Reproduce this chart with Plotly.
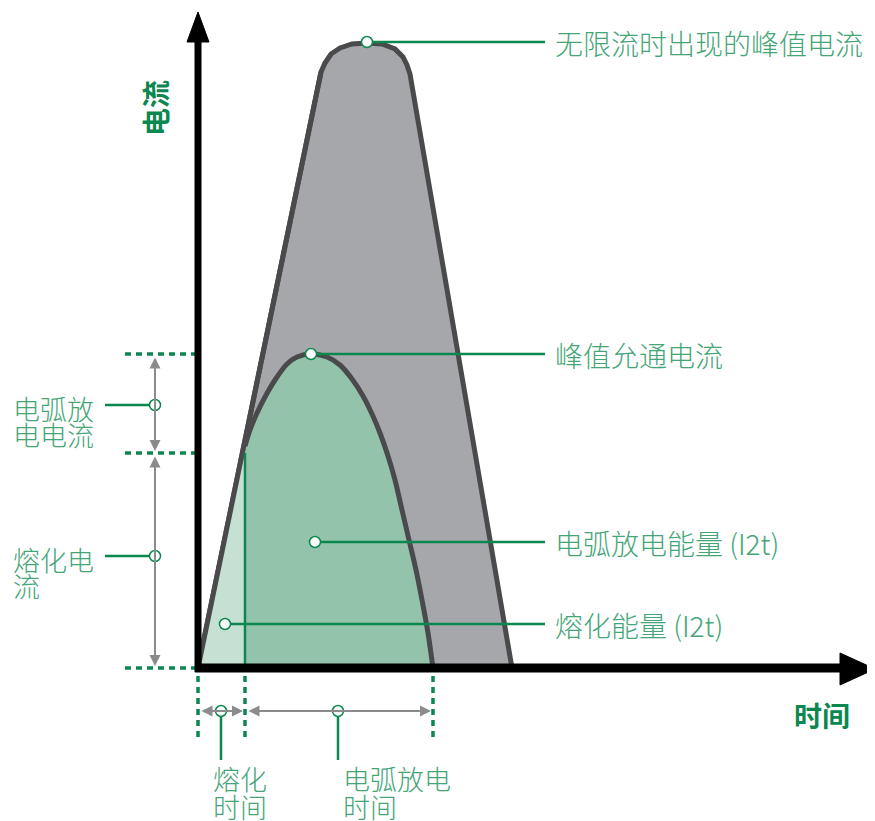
import plotly.graph_objects as go

# outline of the unlimited-current pulse (pixel space, y grows downward)
gray_x = [198, 321, 325, 331, 340, 352, 367, 382, 395, 403, 407, 410, 512, 198]
gray_y = [668, 72, 63, 54, 48, 44, 43, 44, 49, 57, 65, 74, 668, 668]

# let-through current curve
green_x = [245, 250, 257, 265, 275, 287, 297, 311, 327, 340, 352, 363, 372, 380, 388, 395, 402, 409, 416, 422, 428, 433]
green_y = [446, 430, 413, 397, 380, 364, 357, 354, 357, 365, 379, 396, 414, 433, 456, 480, 510, 540, 570, 600, 633, 668]

melt_x = 245
arc_end_x = 433
origin = (198, 668)

# horizontal reference levels on the current axis
level_peak = 354
level_melt = 453

right_labels = ["无限流时出现的峰值电流", "峰值允通电流", "电弧放电能量 (I2t)", "熔化能量 (I2t)"]
right_dots_x = [367, 311, 315, 225]
right_dots_y = [42, 354, 542, 624]

left_labels = [["电弧放", "电电流"], ["熔化电", "流"]]
left_dots_y = [405, 556]

bottom_labels = [["熔化", "时间"], ["电弧放电", "时间"]]
bottom_dots_x = [221, 338]
bottom_text_x = [211, 341]

GREEN_LINE = "#0b874f"
GREEN_TEXT = "#44a577"
DARK = "#4a4a4c"
ARROW_GRAY = "#8b8b8e"
FONT = "Noto Sans CJK SC"
PAGE_OFFSET = 8  # body margin of the html page

fig = go.Figure()

# gray pulse
fig.add_trace(go.Scatter(x=gray_x, y=gray_y, mode="lines", fill="toself",
                         fillcolor="#a6a7aa", line=dict(color=DARK, width=5)))

# light green (melting) region
fig.add_trace(go.Scatter(x=[origin[0], green_x[0], melt_x, origin[0]],
                         y=[origin[1], green_y[0], origin[1], origin[1]],
                         mode="lines", fill="toself", fillcolor="#c6e0d3",
                         line=dict(width=0)))
# medium green (arcing) region
fig.add_trace(go.Scatter(x=[melt_x] + green_x + [melt_x],
                         y=[origin[1]] + green_y + [origin[1]],
                         mode="lines", fill="toself", fillcolor="#93c4ab",
                         line=dict(width=0)))
# redraw left edge of gray pulse over the green
fig.add_trace(go.Scatter(x=gray_x[:2], y=gray_y[:2], mode="lines",
                         line=dict(color=DARK, width=5)))
# let-through curve stroke
fig.add_trace(go.Scatter(x=green_x, y=green_y, mode="lines", line_shape="spline",
                         line=dict(color=DARK, width=5, smoothing=0.8)))

# melt time vertical line inside fill
fig.add_trace(go.Scatter(x=[melt_x, melt_x], y=[level_melt, origin[1]], mode="lines",
                         line=dict(color=GREEN_LINE, width=2.5)))

# dashed guides
for yv in [level_peak, level_melt, origin[1]]:
    fig.add_trace(go.Scatter(x=[125, 196], y=[yv, yv], mode="lines",
                             line=dict(color=GREEN_LINE, width=3.5, dash="6px,5px")))
for xv in [origin[0], melt_x, arc_end_x]:
    fig.add_trace(go.Scatter(x=[xv, xv], y=[676, 742], mode="lines",
                             line=dict(color=GREEN_LINE, width=3.5, dash="6px,5px")))

# axes
fig.add_trace(go.Scatter(x=[origin[0], origin[0]], y=[origin[1] + 4, 38], mode="lines",
                         line=dict(color="black", width=7)))
fig.add_trace(go.Scatter(x=[187, 198, 209, 187], y=[42, 12, 42, 42], mode="lines",
                         fill="toself", fillcolor="black", line=dict(color="black", width=1)))
fig.add_trace(go.Scatter(x=[origin[0] - 3, 845], y=[origin[1], origin[1]], mode="lines",
                         line=dict(color="black", width=9)))
fig.add_trace(go.Scatter(x=[840, 875, 840, 840], y=[653, 669, 685, 653], mode="lines",
                         fill="toself", fillcolor="black", line=dict(color="black", width=1)))

# double-headed gray measurement arrows
arrows = [((155, level_peak), (155, level_melt)), ((155, level_melt), (155, origin[1])),
          ((origin[0], 711), (melt_x, 711)), ((melt_x, 711), (arc_end_x, 711))]
for (x0, y0), (x1, y1) in arrows:
    fig.add_annotation(x=x1, y=y1, ax=x0, ay=y0, axref="x", ayref="y", xref="x", yref="y",
                       text="", showarrow=True, arrowhead=2, startarrowhead=2,
                       arrowside="end+start", arrowsize=1.1, startarrowsize=1.1,
                       arrowwidth=2, arrowcolor=ARROW_GRAY, standoff=2, startstandoff=2)

# right leaders
for lab, dx, dy in zip(right_labels, right_dots_x, right_dots_y):
    fig.add_trace(go.Scatter(x=[dx, 545], y=[dy, dy], mode="lines",
                             line=dict(color=GREEN_LINE, width=2.5)))
    fig.add_annotation(x=553, y=dy + 1, text=lab, showarrow=False, xanchor="left",
                       yanchor="middle", font=dict(family=FONT, size=28, color=GREEN_TEXT, weight=300))

# left leaders
for lines, dy in zip(left_labels, left_dots_y):
    fig.add_trace(go.Scatter(x=[105, 155], y=[dy, dy], mode="lines",
                             line=dict(color=GREEN_LINE, width=2.5)))
    for i, t in enumerate(lines):
        fig.add_annotation(x=11, y=dy + 3 + i * 26, text=t, showarrow=False, xanchor="left",
                           yanchor="middle", font=dict(family=FONT, size=27, color=GREEN_TEXT, weight=300))

# bottom leaders
for lines, dx, tx in zip(bottom_labels, bottom_dots_x, bottom_text_x):
    fig.add_trace(go.Scatter(x=[dx, dx], y=[711, 760], mode="lines",
                             line=dict(color=GREEN_LINE, width=2.5)))
    for i, t in enumerate(lines):
        fig.add_annotation(x=tx, y=778 + i * 28, text=t, showarrow=False, xanchor="left",
                           yanchor="middle", font=dict(family=FONT, size=27, color=GREEN_TEXT, weight=300))

# circle markers
dots_x = right_dots_x + [155, 155] + bottom_dots_x
dots_y = right_dots_y + left_dots_y + [711, 711]
fig.add_trace(go.Scatter(x=dots_x, y=dots_y, mode="markers",
                         marker=dict(size=11, color="white", line=dict(color=GREEN_LINE, width=1.5))))

# axis titles
fig.add_annotation(x=155, y=108, text="<b>电流</b>", showarrow=False, textangle=-90,
                   font=dict(family=FONT, size=28, color=GREEN_LINE))
fig.add_annotation(x=822, y=715, text="<b>时间</b>", showarrow=False,
                   font=dict(family=FONT, size=28, color=GREEN_LINE))

fig.update_layout(width=875 - PAGE_OFFSET, height=821 - PAGE_OFFSET,
                  margin=dict(l=0, r=0, t=0, b=0),
                  plot_bgcolor="white", paper_bgcolor="white", showlegend=False,
                  xaxis=dict(range=[PAGE_OFFSET, 875], visible=False, fixedrange=True),
                  yaxis=dict(range=[821, PAGE_OFFSET], visible=False, fixedrange=True))

fig.write_html("out.html")
